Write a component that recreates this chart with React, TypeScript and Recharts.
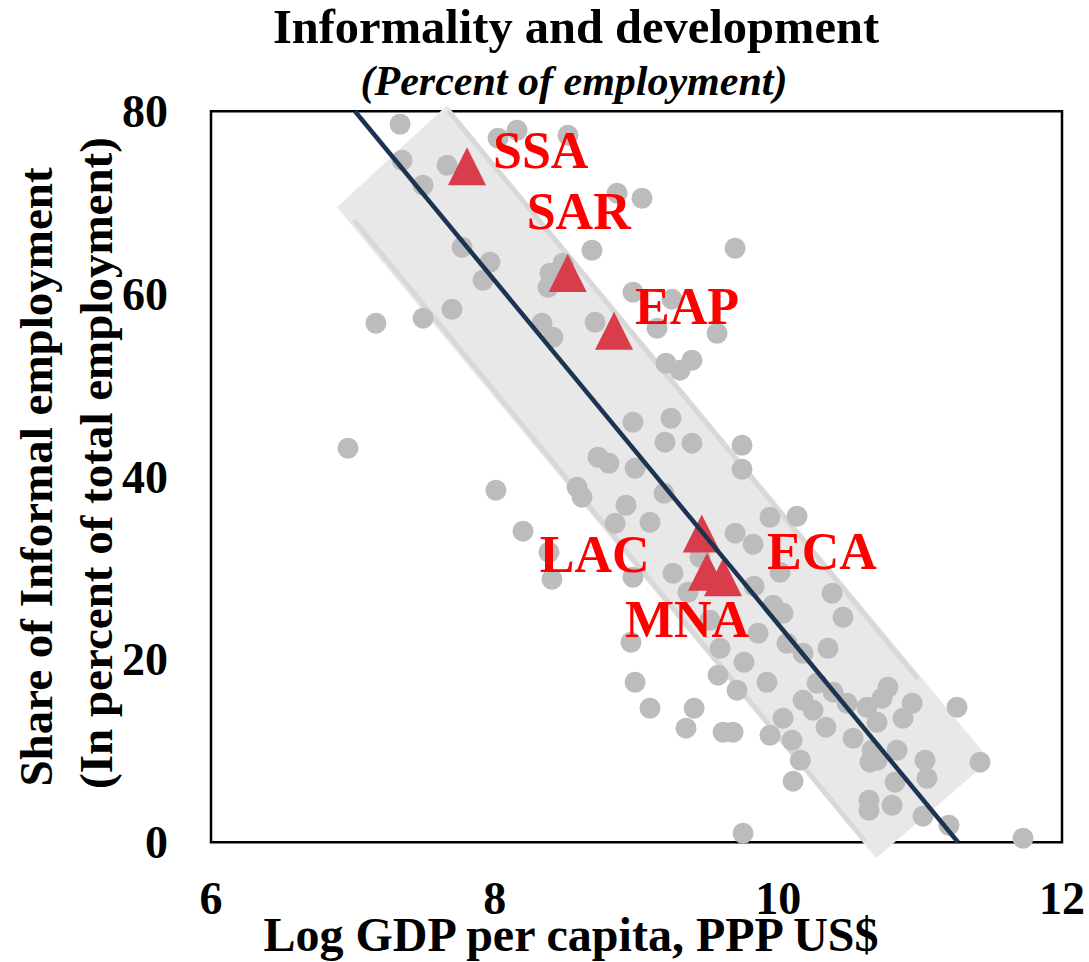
import React from 'react';
import { ScatterChart, Scatter, XAxis, YAxis, ReferenceArea } from 'recharts';

// ---- Data ----
const countryX = [
  7.333, 7.347, 7.495, 7.664, 8.024, 8.158, 8.517, 8.863, 9.039, 7.77,
  7.967, 7.918, 8.686, 8.482, 8.39, 8.376, 8.975, 9.25, 8.334, 8.411,
  8.708, 7.699, 7.495, 7.163, 6.966, 9.695, 9.145, 9.568, 9.208, 9.307,
  9.391, 8.975, 9.243, 9.201, 9.391, 9.744, 9.744, 8.729, 8.806, 8.99,
  8.009, 8.2, 8.383, 8.404, 8.581, 8.616, 9.194, 8.926, 8.849, 9.095,
  9.941, 10.132, 9.695, 9.822, 8.975, 9.257, 9.448, 9.363, 10.012, 9.829,
  10.379, 9.963, 10.033, 10.456, 9.518, 8.961, 9.857, 9.589, 10.061, 10.174,
  10.35, 9.758, 9.575, 8.99, 9.92, 9.709, 10.273, 10.174, 10.245, 10.386,
  10.484, 10.625, 10.773, 10.731, 10.943, 10.879, 11.26, 9.095, 9.406, 9.349,
  9.61, 9.681, 10.033, 9.941, 10.097, 10.336, 10.527, 10.696, 10.837, 10.661,
  10.646, 10.696, 10.155, 10.104, 10.823, 11.034, 11.048, 11.422, 10.639, 10.639,
  10.802, 11.02, 11.203, 9.751, 11.725,
];
const countryY = [
  78.58, 74.64, 71.9, 74.09, 77.05, 77.92, 77.37, 71.03, 70.48, 65.12,
  63.47, 61.5, 64.79, 63.37, 62.27, 60.74, 60.19, 59.43, 56.8, 55.27,
  56.91, 58.33, 57.35, 56.8, 43.12, 65.01, 56.25, 55.7, 52.42, 51.66,
  52.75, 45.96, 46.4, 43.78, 43.67, 43.45, 40.82, 42.13, 41.48, 40.93,
  38.52, 34.04, 31.74, 28.78, 38.85, 37.76, 38.19, 36.88, 34.91, 35.02,
  35.57, 35.68, 33.82, 32.61, 29.0, 29.44, 31.19, 27.36, 29.55, 28.02,
  27.25, 25.94, 25.06, 24.62, 24.3, 21.89, 22.87, 21.23, 21.78, 20.68,
  21.23, 19.7, 18.28, 17.51, 17.51, 16.63, 17.4, 15.54, 14.45, 16.42,
  15.21, 14.77, 16.96, 15.76, 15.21, 13.57, 14.77, 14.66, 14.66, 12.48,
  12.04, 12.04, 13.57, 11.71, 11.16, 12.59, 11.38, 13.13, 10.07, 10.07,
  8.76, 8.97, 8.97, 6.68, 6.57, 8.97, 7.0, 8.76, 4.6, 3.5,
  4.05, 2.85, 1.86, 0.98, 0.44,
];

const regionNames = ['SSA', 'SAR', 'EAP', 'LAC', 'ECA', 'MNA'];
const regionX = [7.805, 8.515, 8.842, 9.46, 9.61, 9.497];
const regionY = [73.3, 61.6, 55.3, 33.1, 28.3, 28.9];

const fitLineX = [7.015, 11.267];
const fitLineY = [80, 0];

const bandX = [6.888, 7.664, 11.492, 10.689];
const bandY = [69.5, 80.66, 8.97, -1.75];
const bandLowerEdgeX = [7.008, 10.611];
const bandLowerEdgeY = [68.07, 0.11];
const bandUpperEdgeX = [7.671, 10.985];
const bandUpperEdgeY = [80.1, 17.84];

const xTicks = [6, 8, 10, 12];
const yTicks = [0, 20, 40, 60, 80];

// ---- Styling ----
const FONT = "'Liberation Serif', 'Times New Roman', Times, serif";
const labelOffsets: Record<string, { dx: number; dy: number }> = {
  SSA: { dx: 26, dy: -4 },
  SAR: { dx: -41, dy: -50 },
  EAP: { dx: 21, dy: -13 },
  LAC: { dx: -162, dy: 32 },
  ECA: { dx: 44, dy: -15 },
  MNA: { dx: -82, dy: 59 },
};

const pts = (xs: number[], ys: number[]) => xs.map((x, i) => ({ x, y: ys[i] }));
const countries = pts(countryX, countryY);
const regions = regionNames.map((name, i) => ({ name, x: regionX[i], y: regionY[i] }));
const fitLine = pts(fitLineX, fitLineY);
const band = pts(bandX, bandY);
const bandLowerEdge = pts(bandLowerEdgeX, bandLowerEdgeY);
const bandUpperEdge = pts(bandUpperEdgeX, bandUpperEdgeY);

const Empty = () => <g />;

const BandPolygon = (props: any) => {
  const p = (props.points || [])
    .map((q: any) => `${q.x ?? q.cx},${q.y ?? q.cy}`)
    .join(' ');
  return <polygon points={p} fill="#e8e8e8" stroke="none" />;
};

const Dot = (props: any) => {
  const { cx, cy } = props;
  return <circle cx={cx} cy={cy} r={10.5} fill="#bcbcbc" />;
};

const Triangle = (props: any) => {
  const { cx, cy, payload } = props;
  const off = labelOffsets[payload.name] || { dx: 0, dy: 0 };
  return (
    <g>
      <polygon
        points={`${cx},${cy - 25.3} ${cx - 19},${cy + 12.7} ${cx + 19},${cy + 12.7}`}
        fill="#d93d4c"
      />
      <text
        x={cx + off.dx}
        y={cy + off.dy}
        fill="#ff0000"
        fontFamily={FONT}
        fontWeight="bold"
        fontSize={52}
      >
        {payload.name}
      </text>
    </g>
  );
};

const XTick = (props: any) => {
  const { x, y, payload } = props;
  return (
    <text x={x} y={y + 53} textAnchor="middle" fontFamily={FONT} fontWeight="bold" fontSize={46} fill="#000">
      {payload.value}
    </text>
  );
};

const YTick = (props: any) => {
  const { x, y, payload } = props;
  return (
    <text x={x - 43} y={y + 16} textAnchor="end" fontFamily={FONT} fontWeight="bold" fontSize={46} fill="#000">
      {payload.value}
    </text>
  );
};

export default function App() {
  return (
    <div style={{ position: 'absolute', left: 0, top: 0, width: 1089, height: 962, background: '#fff' }}>
      <ScatterChart
        width={1089}
        height={962}
        margin={{ top: 102.1, right: 27, bottom: 41.5, left: 0 }}
      >
        <XAxis
          type="number"
          dataKey="x"
          domain={[6, 12]}
          ticks={xTicks}
          axisLine={false}
          tickLine={false}
          tickSize={0}
          tickMargin={0}
          height={60}
          tick={<XTick />}
          interval={0}
        />
        <YAxis
          type="number"
          dataKey="y"
          domain={[-2, 81]}
          ticks={yTicks}
          axisLine={false}
          tickLine={false}
          tickSize={0}
          tickMargin={0}
          width={211}
          tick={<YTick />}
          interval={0}
        />
        <Scatter data={band} line={BandPolygon} shape={Empty} isAnimationActive={false} />
        <Scatter data={bandLowerEdge} line={{ stroke: '#d8d8d8', strokeWidth: 5 }} shape={Empty} isAnimationActive={false} />
        <Scatter data={bandUpperEdge} line={{ stroke: '#d8d8d8', strokeWidth: 5 }} shape={Empty} isAnimationActive={false} />
        <ReferenceArea
          x1={6}
          x2={12}
          y1={0}
          y2={80}
          fill="none"
          fillOpacity={0}
          stroke="#000"
          strokeWidth={2.5}
          ifOverflow="visible"
        />
        <Scatter data={countries} shape={Dot} isAnimationActive={false} />
        <Scatter data={regions} shape={Triangle} isAnimationActive={false} />
        <Scatter data={fitLine} line={{ stroke: '#1c3452', strokeWidth: 4.5 }} shape={Empty} isAnimationActive={false} />
      </ScatterChart>
      <svg
        width={1089}
        height={962}
        style={{ position: 'absolute', left: 0, top: 0, pointerEvents: 'none' }}
      >
        <text x={576} y={43} textAnchor="middle" fontFamily={FONT} fontWeight="bold" fontSize={48.5} fill="#000">
          Informality and development
        </text>
        <text x={574} y={95} textAnchor="middle" fontFamily={FONT} fontWeight="bold" fontStyle="italic" fontSize={42} fill="#000">
          (Percent of employment)
        </text>
        <text x={571} y={951} textAnchor="middle" fontFamily={FONT} fontWeight="bold" fontSize={48} fill="#000">
          Log GDP per capita, PPP US$
        </text>
        <text transform="translate(52,477) rotate(-90)" textAnchor="middle" fontFamily={FONT} fontWeight="bold" fontSize={47} fill="#000">
          Share of Informal employment
        </text>
        <text transform="translate(112,463) rotate(-90)" textAnchor="middle" fontFamily={FONT} fontWeight="bold" fontSize={47} fill="#000">
          (In percent of total employment)
        </text>
      </svg>
    </div>
  );
}
